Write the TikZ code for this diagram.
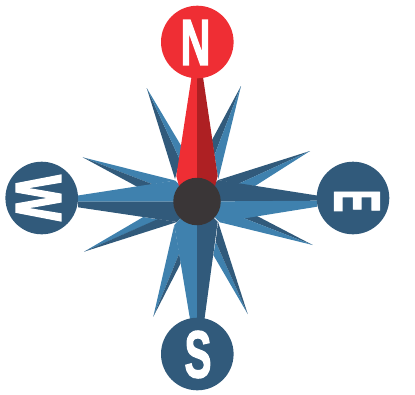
\documentclass[tikz,border=0pt]{standalone}
\usepackage{fontspec}
\usepackage{graphicx}
\newfontfamily\letterfont[FakeBold=2.5]{Liberation Sans Bold}
\definecolor{lightblue}{HTML}{3F81AE}
\definecolor{darkblue}{HTML}{315A7B}
\definecolor{brightred}{HTML}{EF2E34}
\definecolor{darkred}{HTML}{AE2023}
\definecolor{hubgrey}{HTML}{3A3637}
\tikzset{
  lightpart/.style={fill=lightblue,draw=none},
  darkpart/.style={fill=darkblue,draw=none},
  disc/.style={circle,draw=none,inner sep=0pt,minimum size=72.6pt},
  letter/.style={text=white,inner sep=0pt,font=\fontsize{65}{65}\selectfont\letterfont}
}
\begin{document}
\begin{tikzpicture}[x=1pt,y=-1pt]
\useasboundingbox (0,0) rectangle (415,394);
% north-west and north-east spikes
\fill[darkpart] (146.7,88) -- (175,179) -- (180,160) -- cycle;
\fill[lightpart] (146.7,88) -- (180,160) -- (181.7,146.7) -- cycle;
\fill[darkpart] (241,86) -- (214.5,155) -- (212,140) -- cycle;
\fill[lightpart] (241,86) -- (218.3,179) -- (214.5,155) -- cycle;
% west side spikes
\fill[lightpart] (82.7,157.3) -- (175,180.5) -- (152.7,184.3) -- cycle;
\fill[darkpart] (82.7,157.3) -- (152.7,184.3) -- (138.3,187.3) -- cycle;
\fill[lightpart] (84,251.7) -- (143.3,217) -- (158,219.5) -- cycle;
\fill[darkpart] (84,251.7) -- (158,219) -- (177,222) -- cycle;
% east side spikes
\fill[darkpart] (310,151) -- (218.3,180) -- (238,184) -- cycle;
\fill[lightpart] (310,151) -- (238,184) -- (255,186) -- cycle;
\fill[darkpart] (312.7,245) -- (257,216) -- (241.7,217.3) -- cycle;
\fill[lightpart] (312.7,245) -- (241.7,217.3) -- (220,222.3) -- cycle;
% south side spikes
\fill[lightpart] (153.3,316.7) -- (174.3,225) -- (179.3,253.3) -- cycle;
\fill[darkpart] (153.3,316.7) -- (179.3,253.3) -- (180.7,263.3) -- cycle;
\fill[lightpart] (247.7,314) -- (213.3,255) -- (215.7,241.7) -- cycle;
\fill[darkpart] (247.7,314) -- (215.7,241.7) -- (218,221.7) -- cycle;
% main spines
\fill[lightpart] (78,195.5) -- (175,180.5) -- (197,201.5) -- (78,201.5) -- cycle;
\fill[darkpart] (78,207.3) -- (177,222) -- (197,201.5) -- (78,201.5) -- cycle;
\fill[darkpart] (317,195.5) -- (218,180) -- (197,201.5) -- (317,200.7) -- cycle;
\fill[lightpart] (317,206.7) -- (220,222.3) -- (197,201.5) -- (317,200.7) -- cycle;
\fill[lightpart] (190,319) -- (174.3,225) -- (197,201.5) -- (197,319) -- cycle;
\fill[darkpart] (204.5,319) -- (217.7,221.7) -- (197,201.5) -- (197,319) -- cycle;
% red needle
\fill[brightred] (191.5,77) -- (176.3,176) -- (180,190) -- (197,201.5) -- (197,77) -- cycle;
\fill[darkred] (203,77) -- (217.7,176) -- (214,190) -- (197,201.5) -- (197,77) -- cycle;
% discs
\node[disc,fill=brightred] (north) at (197.3,42) {};
\node[disc,fill=darkblue] (south) at (197.3,354) {};
\node[disc,fill=darkblue] (west) at (41.7,198) {};
\node[disc,fill=darkblue] (east) at (353,198) {};
\node[circle,fill=hubgrey,draw=none,inner sep=0pt,minimum size=47.5pt] (hub) at (197,201.5) {};
% letters
\node[letter] (ln) at (195.5,42.5) {\scalebox{.63}[1]{N}};
\node[letter] (ls) at (198,354.5) {\scalebox{.62}[1.02]{S}};
\node[letter] (lw) at (38.5,198) {\rotatebox{-90}{\scalebox{.75}[1]{W}}};
\node[letter] (le) at (357,201) {\rotatebox{-90}{\scalebox{.52}[1]{E}}};
\end{tikzpicture}
\end{document}
